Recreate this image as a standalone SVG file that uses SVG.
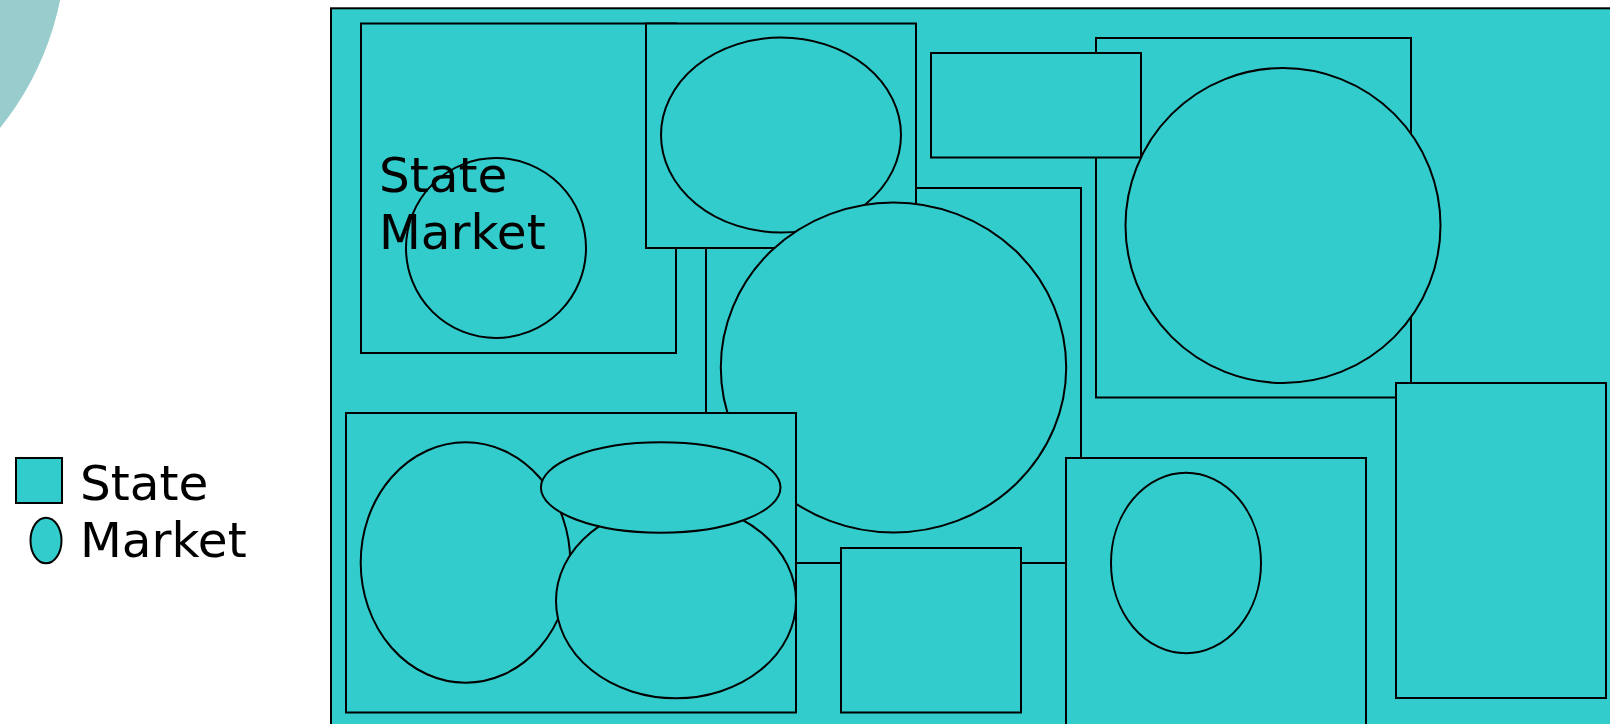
<svg xmlns="http://www.w3.org/2000/svg" width="1610" height="724" viewBox="0 0 1610 724">
<style>
.s{fill:#33CCCC;stroke:#000;stroke-width:2}
.t{font-family:"DejaVu Sans","Verdana",sans-serif;font-size:48.5px;fill:#000}
</style>
<rect width="1610" height="724" fill="#fff"/>
<circle id="deco" cx="-232" cy="-59" r="298" fill="#99CCCC"/>
<g id="legend">
<rect class="s" x="16" y="458" width="46" height="45"/>
<ellipse class="s" cx="46" cy="540.5" rx="15.5" ry="22.8"/>
<text class="t" x="80" y="500">State</text>
<text class="t" x="80" y="556.7">Market</text>
</g>
<g id="world">
<rect class="s" x="331" y="8.3" width="1300" height="740"/>
</g>
<g id="stateA">
<rect class="s" x="361" y="23.5" width="315" height="329.5"/>
<circle class="s" cx="496" cy="248" r="90"/>
<text class="t" x="379" y="192">State</text>
<text class="t" x="379" y="249">Market</text>
</g>
<g id="stateC">
<rect class="s" x="706" y="188" width="375" height="375"/>
</g>
<g id="stateB">
<rect class="s" x="646" y="23.5" width="270" height="224.5"/>
<ellipse class="s" cx="781" cy="135" rx="120" ry="97.5"/>
</g>
<g id="marketC">
<ellipse class="s" cx="893.5" cy="367.5" rx="172.7" ry="165"/>
</g>
<g id="stateE">
<rect class="s" x="1096" y="38" width="315" height="359.5"/>
</g>
<g id="stateD">
<rect class="s" x="931" y="53" width="210" height="104.5"/>
</g>
<g id="marketE">
<circle class="s" cx="1283" cy="225.5" r="157.5"/>
</g>
<g id="stateF">
<rect class="s" x="1396" y="383" width="210" height="315"/>
</g>
<g id="stateG">
<rect class="s" x="1066" y="458" width="300" height="300"/>
<ellipse class="s" cx="1186" cy="563" rx="75" ry="90.3"/>
</g>
<g id="stateH">
<rect class="s" x="841" y="548" width="180" height="164.5"/>
</g>
<g id="stateI">
<rect class="s" x="346" y="413" width="450" height="299.5"/>
<ellipse class="s" cx="465.5" cy="562.5" rx="104.8" ry="120.2"/>
<ellipse class="s" cx="676" cy="601" rx="120" ry="97.3"/>
<ellipse class="s" cx="660.7" cy="487.5" rx="119.8" ry="45.2"/>
</g>
<g id="connectors"></g>
</svg>
